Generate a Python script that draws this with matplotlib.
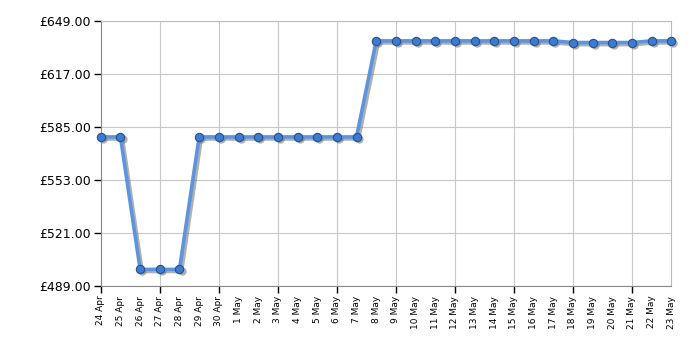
import matplotlib
matplotlib.use("Agg")
import matplotlib.pyplot as plt
import matplotlib.transforms as mtransforms

dates = [
    "24 Apr", "25 Apr", "26 Apr", "27 Apr", "28 Apr", "29 Apr", "30 Apr",
    "1 May", "2 May", "3 May", "4 May", "5 May", "6 May", "7 May", "8 May",
    "9 May", "10 May", "11 May", "12 May", "13 May", "14 May", "15 May",
    "16 May", "17 May", "18 May", "19 May", "20 May", "21 May", "22 May",
    "23 May",
]
prices = [
    579, 579, 499, 499, 499,
    579, 579, 579, 579, 579, 579, 579, 579, 579,
    637, 637, 637, 637, 637, 637, 637, 637, 637, 637,
    636, 636, 636, 636,
    637, 637,
]
y_ticks = [489, 521, 553, 585, 617, 649]

fig = plt.figure(figsize=(7, 3.5), dpi=100)
ax = fig.add_axes([0.144, 0.183, 0.815, 0.757])

x = list(range(len(dates)))

# soft drop shadow under the line
shadow = mtransforms.offset_copy(ax.transData, fig=fig, x=1.5, y=-1.5, units="points")
ax.plot(
    x, prices, transform=shadow,
    color="#707070", alpha=0.55, linewidth=2.6,
    marker="o", markersize=6, markeredgewidth=0,
    clip_on=False, zorder=2.5,
)
ax.plot(
    x, prices,
    color="#5b95e0", linewidth=2.6,
    marker="o", markersize=6,
    markerfacecolor="#3d7bcf", markeredgecolor="#24528f", markeredgewidth=0.8,
    clip_on=False, zorder=3,
)

ax.set_xlim(0, len(dates) - 1)
ax.set_ylim(489, 649)
ax.set_yticks(y_ticks)
ax.set_yticklabels([f"£{v:.2f}" for v in y_ticks], fontsize=9)

# labels on every day, ticks and grid every third day
ax.xaxis.remove_overlapping_locs = False
ax.set_xticks(x)
ax.set_xticklabels(dates, rotation=90, fontsize=6.5)
ax.set_xticks(x[::3], minor=True)
ax.tick_params(axis="x", which="major", length=0, pad=7)
ax.tick_params(axis="x", which="minor", length=5, width=1, color="black")
ax.tick_params(axis="y", length=5, width=1, color="black", pad=2)
ax.grid(True, axis="x", which="minor", color="#c8c8c8", linewidth=0.8)
ax.grid(True, axis="y", which="major", color="#c8c8c8", linewidth=0.8)
ax.set_axisbelow(True)

for side in ["left", "bottom"]:
    ax.spines[side].set_color("#888888")
for side in ["top", "right"]:
    ax.spines[side].set_color("#bbbbbb")

fig.savefig("out.png", dpi=100)
